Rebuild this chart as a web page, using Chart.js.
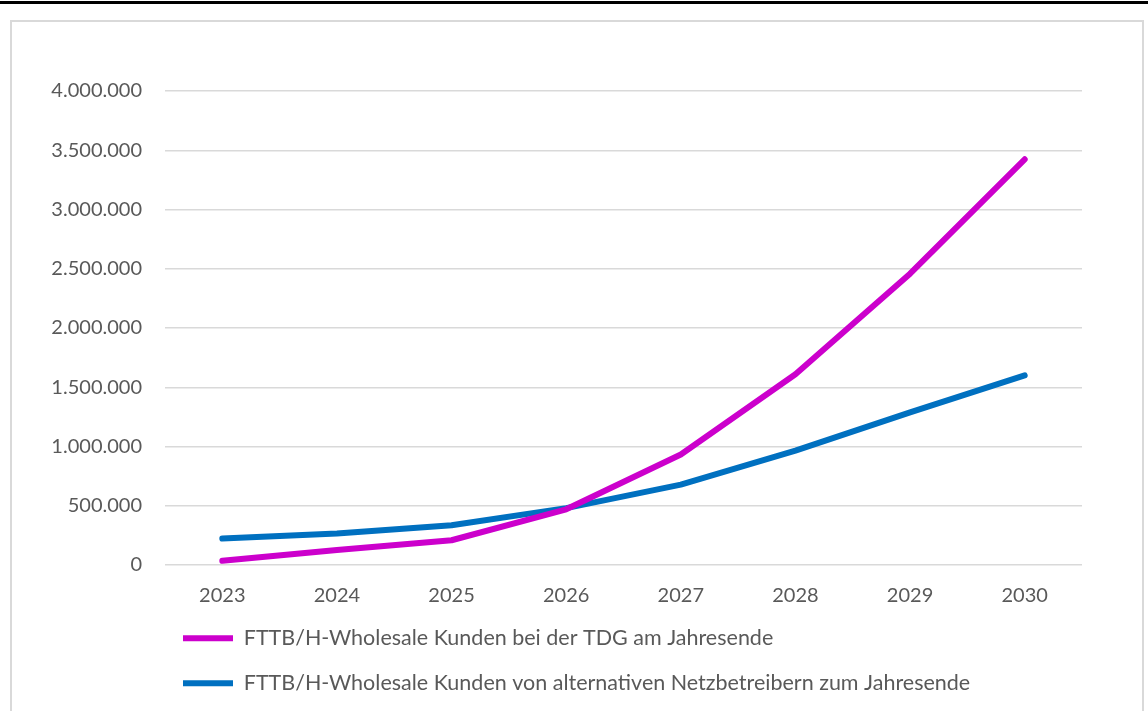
<!DOCTYPE html>
<html>
<head>
<meta charset="utf-8">
<script src="https://cdn.jsdelivr.net/npm/chart.js@4"></script>
<style>
	html, body { margin: 0; padding: 0; background: #fff; }
	body { width: 1148px; height: 711px; position: relative; overflow: hidden; }
	.topline { position: absolute; left: 0; top: 1px; width: 1148px; height: 3px; background: #000; }
	.frame { position: absolute; left: 10px; top: 20px; width: 1134px; height: 700px; border: 2px solid #d9d9d9; box-sizing: border-box; }
	#wholesaleChart { position: absolute; left: 0; top: 0; }
</style>
</head>
<body>
<div class="topline"></div>
<div class="frame"></div>
<canvas id="wholesaleChart" width="1148" height="711"></canvas>
<script>
const years = ['2023', '2024', '2025', '2026', '2027', '2028', '2029', '2030'];
const tdgCustomers = [35000, 127000, 209000, 470000, 932000, 1610000, 2458000, 3424000];
const altCustomers = [223000, 265000, 336000, 480000, 678000, 966000, 1288000, 1600000];
const seriesNames = [
	'FTTB/H-Wholesale Kunden bei der TDG am Jahresende',
	'FTTB/H-Wholesale Kunden von alternativen Netzbetreibern zum Jahresende'
];

const textGrey = '#595959';

// thousands with a dot, as in 4.000.000
const formatDE = v => String(v).replace(/\B(?=(\d{3})+(?!\d))/g, '.');

// legend sits under the plot, a bit left of the default padded start
const legendIndent = {
	id: 'legendIndent',
	afterLayout(chart) {
		chart.legend.left = chart.chartArea.left - 5.5;
	}
};

const ctx = document.getElementById('wholesaleChart').getContext('2d');
let wholesaleChart = new Chart(ctx, {
	type: 'line',
	data: {
		labels: years,
		datasets: [
			{
				label: seriesNames[0],
				data: tdgCustomers,
				borderColor: '#cc00cc',
				backgroundColor: '#cc00cc',
				borderWidth: 6,
				borderCapStyle: 'round',
				borderJoinStyle: 'round',
				pointRadius: 0,
				tension: 0
			},
			{
				label: seriesNames[1],
				data: altCustomers,
				borderColor: '#0070c0',
				backgroundColor: '#0070c0',
				borderWidth: 6,
				borderCapStyle: 'round',
				borderJoinStyle: 'round',
				pointRadius: 0,
				tension: 0
			}
		]
	},
	options: {
		responsive: false,
		animation: false,
		layout: { padding: { left: 11, right: 66, top: 91, bottom: 7 } },
		plugins: {
			tooltip: { enabled: false },
			legend: {
				position: 'bottom',
				align: 'start',
				fullSize: false,
				labels: {
					usePointStyle: true,
					pointStyle: 'line',
					pointStyleWidth: 50,
					padding: 23.5,
					color: textGrey,
					font: { family: 'Lato', size: 21.5 }
				}
			}
		},
		scales: {
			x: {
				offset: true,
				grid: { display: false, drawTicks: false },
				border: { display: false },
				ticks: {
					color: textGrey,
					font: { family: 'Lato', size: 20, lineHeight: 0.8 },
					padding: 23,
					maxRotation: 0
				},
				afterFit: scale => { scale.height = 39; }
			},
			y: {
				min: 0,
				max: 4000000,
				grid: { color: '#d9d9d9', lineWidth: 1.5, drawTicks: false },
				border: { display: false },
				ticks: {
					stepSize: 500000,
					color: textGrey,
					font: { family: 'Lato', size: 20 },
					padding: 23,
					callback: v => formatDE(v)
				},
				afterFit: scale => { scale.width = 154; }
			}
		}
	},
	plugins: [legendIndent]
});
</script>
</body>
</html>
